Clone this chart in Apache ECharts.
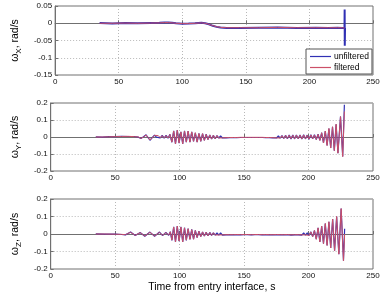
<!DOCTYPE html>
<html><head><meta charset="utf-8">
<script src="https://cdn.jsdelivr.net/npm/echarts@6/dist/echarts.min.js"></script>
<style>html,body{margin:0;padding:0;background:#fff}#c{width:385px;height:296px}</style>
</head><body><div id="c"></div>
<script>
// ---- data ----
var xTicks = [0, 50, 100, 150, 200, 250];
var legendNames = ['unfiltered', 'filtered'];

// omega_X
var tX = [35,45,55,65,75,82,86,89,92,95,100,105,110,115,118,121,124,127,130,135,145,160,175,190,205,215,222,226,227.6,227.7,227.8,228];
var fX = [0,0,0.0005,0,0.0005,0.001,0.002,0.002,0.001,0,-0.001,-0.001,0,0.001,0,-0.003,-0.007,-0.01,-0.012,-0.013,-0.013,-0.013,-0.012,-0.013,-0.013,-0.013,-0.013,-0.013,-0.014,-0.014,-0.014,-0.014];
var uX = [0.0005,-0.0005,0.001,0,0.001,0.0015,0.0025,0.002,0.0015,0,-0.0015,-0.001,0,0.0015,0,-0.003,-0.0075,-0.0105,-0.0125,-0.0135,-0.0135,-0.013,-0.0125,-0.0135,-0.013,-0.0135,-0.013,-0.0135,-0.014,0.04,-0.065,-0.014];

// omega_Y
var tY = [35,40,45,50,55,60,65,68,70,72,74,77,80.5,82,83.5,85,86.5,88,89.5,91,92.5,
  94,95.4,96.8,98.2,99.6,101,102.4,103.8,105.2,106.6,108,109.4,110.8,112.2,113.6,115,116.4,117.8,119.2,120.6,122,123.4,124.8,126.2,127.6,129,130.4,
  131.8,133.2,134.6,136,137.4,138.8,140.2,141.6,143,144.4,145.8,147.2,148.6,150,151.4,152.8,154.2,155.6,157,158.4,159.8,161.2,162.6,164,165.4,166.8,168.2,169.6,171,172.4,173.8,175.2,176.6,178,
  179.4,180.8,182.2,183.6,185,186.4,187.8,189.2,190.6,192,193.4,194.8,196.2,197.6,199,200.4,201.8,203.2,204.6,206,207.4,
  208.8,210.2,211.6,213,214.4,215.8,217.2,218.6,220,221.4,222.8,224.8,226.5,227.8];
var fY = [0,0,0.001,0.002,0.003,0.004,0.002,0,-0.008,0,0.012,-0.018,0.01,0,0.008,-0.004,0.008,-0.005,0.008,-0.006,0.015,
  -0.03,0.035,-0.04,0.04,-0.035,0.03,-0.04,0.035,-0.03,0.035,-0.03,0.03,-0.025,0.025,-0.03,0.02,-0.025,0.02,-0.02,0.015,-0.015,0.012,-0.012,0.01,-0.01,0.008,-0.006,
  0.005,-0.005,0.004,-0.004,0.004,-0.003,0.003,-0.003,0.003,-0.003,0.003,-0.002,0.002,-0.002,0.002,-0.002,0.002,-0.002,0.002,-0.002,0.002,-0.002,0.002,-0.002,0.003,-0.003,0.003,-0.003,0.004,-0.004,0.005,-0.005,0.005,-0.006,
  0.007,-0.008,0.009,-0.009,0.01,-0.01,0.01,-0.01,0.011,-0.01,0.011,-0.011,0.012,-0.01,0.01,-0.012,0.012,-0.01,0.012,-0.014,0.015,
  -0.02,0.025,-0.035,0.035,-0.05,0.05,-0.065,0.06,-0.08,0.075,-0.095,0.12,-0.115,0.15];
var uY = [0.001,-0.001,0.002,0.002,0.004,0.003,0.003,-0.001,-0.009,0.001,0.013,-0.019,0.011,-0.001,0.009,-0.005,0.009,-0.006,0.009,-0.007,0.016,
  -0.031,0.036,-0.041,0.041,-0.036,0.031,-0.041,0.036,-0.031,0.035,-0.031,0.03,-0.026,0.025,-0.03,0.021,-0.025,0.02,-0.02,0.016,-0.015,0.012,-0.012,0.01,-0.01,0.008,-0.006,
  0.006,-0.006,0.005,-0.005,0.005,-0.004,0.004,-0.004,0.004,-0.004,0.004,-0.003,0.003,-0.003,0.003,-0.003,0.003,-0.003,0.003,-0.003,0.003,-0.003,0.003,-0.003,0.004,-0.004,0.004,-0.004,0.005,-0.005,0.006,-0.006,0.006,-0.007,
  0.008,-0.009,0.01,-0.01,0.011,-0.011,0.011,-0.011,0.012,-0.011,0.012,-0.012,0.013,-0.011,0.011,-0.013,0.013,-0.011,0.013,-0.015,0.016,
  -0.02,0.025,-0.035,0.035,-0.05,0.05,-0.065,0.06,-0.08,0.075,-0.095,0.12,-0.115,0.19];

// omega_Z
var tZ = [35,42,50,55,58,62,65.6,69.4,73,77,80.6,84.4,86.8,89.3,91.5,92.8,
  94,95.4,96.8,98.2,99.6,101,102.4,103.8,105.2,106.6,108,109.4,110.8,112.2,113.6,115,116.4,117.8,119.2,120.6,122,123.4,124.8,126.2,127.6,129,130.4,
  131.8,133.2,134.6,136,137.4,138.8,140.2,141.6,143,144.4,145.8,147.2,148.6,150,151.4,152.8,154.2,155.6,157,158.4,159.8,161.2,162.6,164,165.4,166.8,168.2,169.6,171,172.4,173.8,175.2,176.6,178,179.4,180.8,182.2,183.6,185,186.4,187.8,189.2,190.6,192,193.4,194.8,196.2,197.6,
  199,200.4,201.8,203.2,204.6,206,207.4,208.8,210.2,211.6,213,214.4,215.8,217.2,218.7,220.2,221.8,223.5,225.3,227.1,228];
var fZ = [0,0,-0.001,-0.002,-0.004,0.01,-0.008,0.008,-0.012,0.01,-0.012,0.01,-0.008,0.008,-0.006,0.012,
  -0.035,0.04,-0.045,0.045,-0.04,0.04,-0.045,0.035,-0.035,0.03,-0.03,0.025,-0.03,0.02,-0.02,0.015,-0.015,0.012,-0.012,0.01,-0.01,0.008,-0.008,0.007,-0.006,0.005,-0.005,
  0.005,-0.005,0.004,-0.004,0.004,-0.004,0.003,-0.004,0.003,-0.003,0.003,-0.004,0.002,-0.003,0.003,-0.003,0.002,-0.004,0.002,-0.003,0.002,-0.003,0.003,-0.004,0.002,-0.003,0.003,-0.004,0.003,-0.004,0.003,-0.003,0.004,-0.004,0.003,-0.004,0.004,-0.003,0.004,-0.005,0.004,-0.004,0.005,-0.004,0.004,-0.005,0.005,-0.005,
  0.006,-0.008,0.012,-0.015,0.02,-0.03,0.035,-0.045,0.045,-0.055,0.06,-0.065,0.07,-0.08,0.085,-0.095,0.1,-0.115,0.145,-0.153,0.0];
var uZ = [0.001,-0.001,0,-0.003,-0.005,0.011,-0.009,0.009,-0.013,0.011,-0.013,0.011,-0.009,0.009,-0.007,0.013,
  -0.036,0.041,-0.046,0.046,-0.041,0.041,-0.046,0.036,-0.036,0.031,-0.031,0.026,-0.03,0.021,-0.02,0.016,-0.015,0.012,-0.012,0.01,-0.01,0.009,-0.008,0.007,-0.006,0.006,-0.006,
  0.006,-0.006,0.005,-0.005,0.005,-0.005,0.004,-0.005,0.004,-0.004,0.004,-0.005,0.003,-0.004,0.004,-0.004,0.003,-0.005,0.003,-0.004,0.003,-0.004,0.004,-0.005,0.003,-0.004,0.004,-0.005,0.004,-0.005,0.004,-0.004,0.005,-0.005,0.004,-0.005,0.005,-0.004,0.005,-0.006,0.005,-0.005,0.006,-0.005,0.005,-0.006,0.006,-0.006,
  0.006,-0.008,0.012,-0.015,0.02,-0.03,0.035,-0.045,0.045,-0.055,0.06,-0.065,0.07,-0.08,0.085,-0.095,0.1,-0.115,0.145,-0.153,0.03];

// ---- chart ----
function pairs(t, v) { return t.map(function (x, i) { return [x, v[i]]; }); }
var BLUE = '#3030b4', RED = '#cc5068';
var FONT = 'Liberation Sans, Arial, sans-serif';
var grids = [
  {left: 39, top: 6, width: 334, height: 69},
  {left: 39, top: 103, width: 334, height: 68},
  {left: 39, top: 199, width: 334, height: 70}
];
var yDefs = [
  {min: -0.15, max: 0.05, interval: 0.05, sub: 'X'},
  {min: -0.2, max: 0.2, interval: 0.1, sub: 'Y'},
  {min: -0.2, max: 0.2, interval: 0.1, sub: 'Z'}
];
var grid = grids.map(function (g) {
  return Object.assign({show: true, borderColor: '#707070', borderWidth: 1, backgroundColor: '#fff', containLabel: false}, g);
});
var split = {show: true, lineStyle: {color: '#b8b8b8', type: [1, 2], width: 1}};
var xAxis = grids.map(function (g, i) {
  var a = {
    type: 'value', gridIndex: i, min: xTicks[0], max: xTicks[xTicks.length - 1], interval: 50,
    axisLine: {show: true, lineStyle: {color: '#707070'}},
    axisTick: {show: true, inside: true, length: 3, lineStyle: {color: '#707070'}},
    axisLabel: {fontSize: 8, color: '#111', margin: 3, fontFamily: FONT},
    splitLine: split
  };
  if (i === 2) {
    a.name = 'Time from entry interface, s';
    a.nameLocation = 'middle';
    a.nameGap = 13;
    a.nameTextStyle = {fontSize: 10.5, color: '#000', fontFamily: FONT, verticalAlign: 'top'};
  }
  return a;
});
var yAxis = yDefs.map(function (d, i) {
  return {
    type: 'value', gridIndex: i, min: d.min, max: d.max, interval: d.interval,
    axisLine: {show: true, lineStyle: {color: '#707070'}},
    axisTick: {show: true, inside: true, length: 3, lineStyle: {color: '#707070'}},
    axisLabel: {fontSize: 8, color: '#111', margin: 3, fontFamily: FONT},
    splitLine: split,
    name: '{w|ω}{s|' + d.sub + '}{w|, rad/s}',
    nameLocation: 'middle', nameRotate: 90, nameGap: 21,
    nameTextStyle: {
      color: '#000', fontFamily: FONT,
      rich: {
        w: {fontSize: 10.5, lineHeight: 12, fontFamily: FONT, color: '#000'},
        s: {fontSize: 8, lineHeight: 8, padding: [7, 0, 0, 0], fontFamily: FONT, color: '#000'}
      }
    }
  };
});
var sets = [[tX, uX, fX], [tY, uY, fY], [tZ, uZ, fZ]];
var series = [];
sets.forEach(function (s, i) {
  series.push({
    name: legendNames[0], type: 'line', xAxisIndex: i, yAxisIndex: i, data: pairs(s[0], s[1]),
    symbol: 'none', silent: true, lineStyle: {color: BLUE, width: i === 0 ? 2 : 1.2}, itemStyle: {color: BLUE}, z: 2
  });
  series.push({
    name: legendNames[1], type: 'line', xAxisIndex: i, yAxisIndex: i, data: pairs(s[0], s[2]),
    symbol: 'none', silent: true, lineStyle: {color: RED, width: 1}, itemStyle: {color: RED}, z: 3
  });
});
var chart = echarts.init(document.getElementById('c'), null, {renderer: 'canvas'});
chart.setOption({
  animation: false,
  backgroundColor: '#fff',
  grid: grid, xAxis: xAxis, yAxis: yAxis, series: series,
  legend: {
    data: legendNames, orient: 'vertical', left: 306, top: 49,
    icon: 'rect', itemWidth: 21, itemHeight: 1.2, itemGap: 2, padding: [3, 3, 2, 4],
    borderColor: '#555', borderWidth: 1, backgroundColor: '#fff', borderRadius: 0,
    textStyle: {fontSize: 8.5, color: '#000', fontFamily: FONT, padding: [0, 0, 0, -2]}
  }
});
</script></body></html>
